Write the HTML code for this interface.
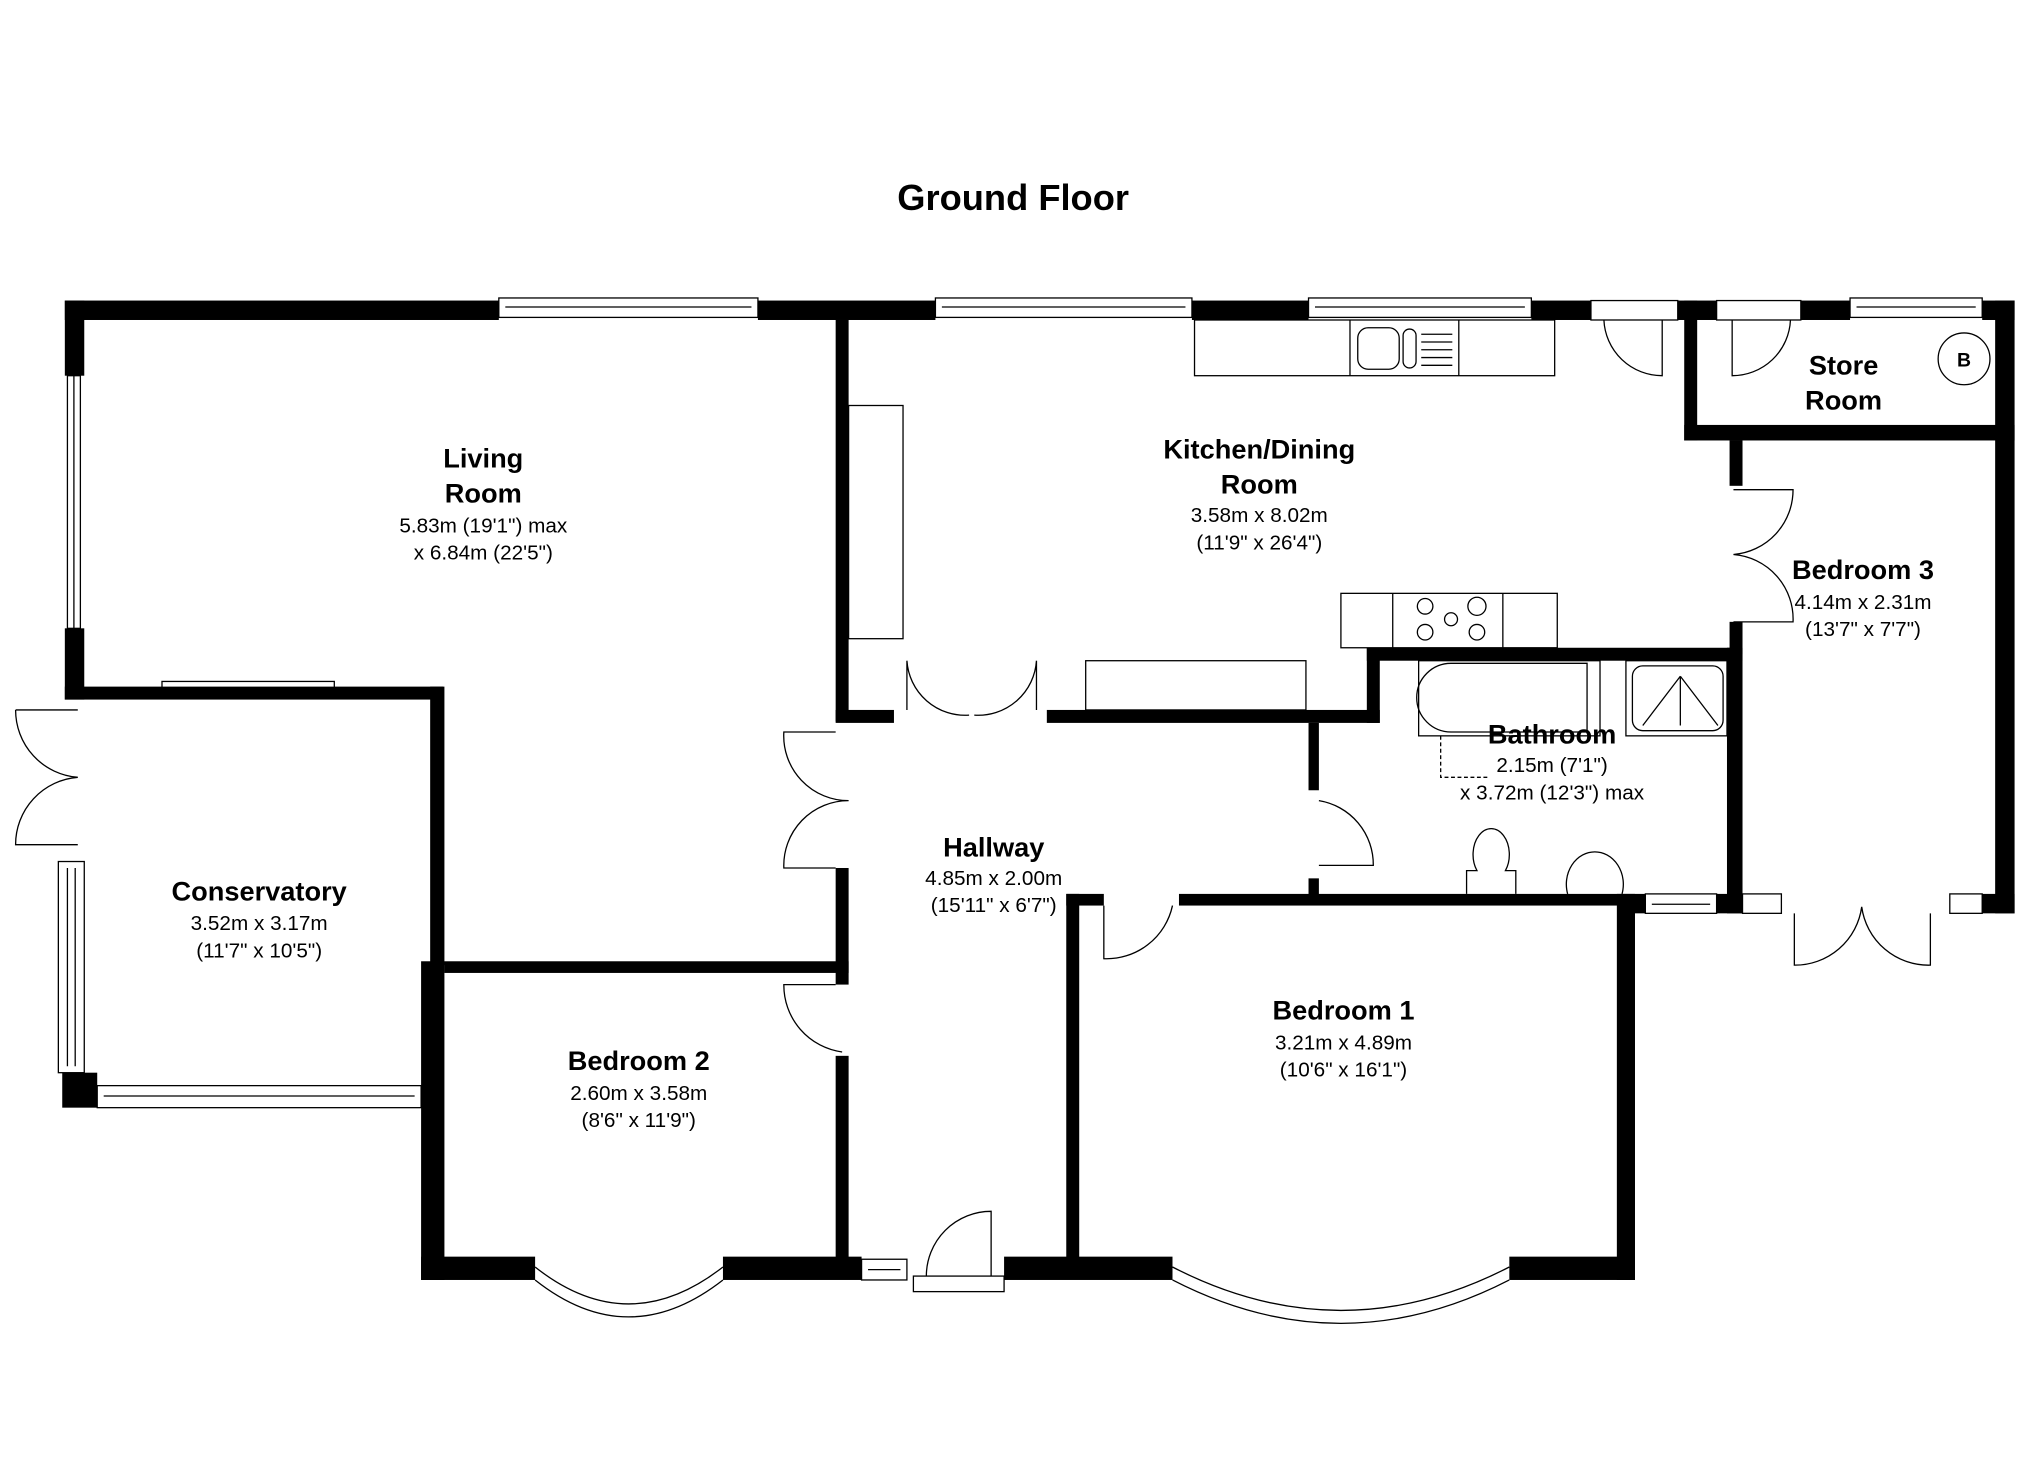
<!DOCTYPE html>
<html><head><meta charset="utf-8"><style>html,body{margin:0;padding:0;background:#fff}svg{display:block}text{font-family:"Liberation Sans",Arial,sans-serif;text-anchor:middle;fill:#000}.t{font-weight:bold;font-size:21px}.s{font-size:16px}</style></head><body>
<svg width="2025" height="1473" viewBox="0 0 1563 1137" xmlns="http://www.w3.org/2000/svg">
<rect width="1563" height="1137" fill="#fff"/>
<text x="782" y="162" style="font-weight:bold;font-size:28px">Ground Floor</text>
<g fill="#000">
<rect x="50" y="232" width="335" height="15"/>
<rect x="585" y="232" width="137" height="15"/>
<rect x="920" y="232" width="90" height="15"/>
<rect x="1182" y="232" width="46" height="15"/>
<rect x="1295" y="232" width="30" height="15"/>
<rect x="1390" y="232" width="38" height="15"/>
<rect x="1530" y="232" width="25" height="15"/>
<rect x="50" y="232" width="15" height="58"/>
<rect x="50" y="485" width="15" height="55"/>
<rect x="50" y="530" width="292" height="10"/>
<rect x="332" y="530" width="11" height="215"/>
<rect x="325" y="742" width="18" height="246"/>
<rect x="343" y="742" width="312" height="9"/>
<rect x="48" y="828" width="27" height="27"/>
<rect x="645" y="247" width="10" height="310"/>
<rect x="645" y="670" width="10" height="90"/>
<rect x="645" y="815" width="10" height="160"/>
<rect x="325" y="970" width="88" height="18"/>
<rect x="558" y="970" width="107" height="18"/>
<rect x="775" y="970" width="130" height="18"/>
<rect x="1165" y="970" width="97" height="18"/>
<rect x="823" y="690" width="10" height="285"/>
<rect x="823" y="690" width="29" height="9"/>
<rect x="910" y="690" width="352" height="9"/>
<rect x="1248" y="690" width="14" height="298"/>
<rect x="645" y="548" width="45" height="10"/>
<rect x="808" y="548" width="257" height="10"/>
<rect x="1055" y="500" width="10" height="58"/>
<rect x="1055" y="500" width="290" height="10"/>
<rect x="1010" y="558" width="8" height="52"/>
<rect x="1010" y="678" width="8" height="20"/>
<rect x="1333" y="500" width="12" height="205"/>
<rect x="1335" y="340" width="10" height="35"/>
<rect x="1335" y="480" width="10" height="25"/>
<rect x="1300" y="232" width="10" height="108"/>
<rect x="1300" y="328" width="255" height="12"/>
<rect x="1540" y="232" width="15" height="473"/>
<rect x="1262" y="690" width="8" height="15"/>
<rect x="1325" y="690" width="20" height="15"/>
<rect x="1530" y="690" width="25" height="15"/>
</g>
<g fill="none" stroke="#000" stroke-width="1">
<rect x="385" y="230" width="200" height="15"/><line x1="390" y1="237" x2="580" y2="237"/>
<rect x="722" y="230" width="198" height="15"/><line x1="727" y1="237" x2="915" y2="237"/>
<rect x="1010" y="230" width="172" height="15"/><line x1="1015" y1="237" x2="1177" y2="237"/>
<rect x="1428" y="230" width="102" height="15"/><line x1="1433" y1="237" x2="1525" y2="237"/>
<rect x="52" y="290" width="10" height="195"/><line x1="57" y1="290" x2="57" y2="485"/>
<rect x="125" y="526" width="133" height="10"/><line x1="125" y1="531" x2="258" y2="531"/>
<rect x="45" y="665" width="20" height="163"/><line x1="52" y1="670" x2="52" y2="823"/><line x1="58" y1="670" x2="58" y2="823"/>
<rect x="75" y="838" width="250" height="17"/><line x1="80" y1="846" x2="320" y2="846"/>
<rect x="665" y="972" width="35" height="16"/><line x1="670" y1="980" x2="695" y2="980"/>
<rect x="1270" y="690" width="55" height="15"/><line x1="1275" y1="698" x2="1320" y2="698"/>
<rect x="1345" y="690" width="30" height="15"/><rect x="1505" y="690" width="25" height="15"/>
<rect x="1228" y="232" width="67" height="15"/><path d="M1238 247 A45 45 0 0 0 1283 290 V247"/>
<rect x="1325" y="232" width="65" height="15"/><path d="M1337 247 V290 A45 45 0 0 0 1382 247"/>
<path d="M1338 378 H1384 A50 50 0 0 1 1338 428 A50 50 0 0 1 1384 480 H1338"/>
<path d="M700 510 V548 M700 510 A45 45 0 0 0 748 552 M800 510 V548 M800 510 A45 45 0 0 1 752 552"/>
<path d="M645 565 H605 A50 50 0 0 0 655 618 A50 50 0 0 0 605 670 H645"/>
<path d="M1018 618 A50 50 0 0 1 1060 668 H1018"/>
<path d="M852 699 V740 A52 52 0 0 0 905 699"/>
<path d="M645 760 H605 A52 52 0 0 0 650 812"/>
<rect x="705" y="985" width="70" height="12"/><path d="M715 985 A50 50 0 0 1 765 935 V985"/>
<path d="M12 548 H60 M12 548 A52 52 0 0 0 60 600 A52 52 0 0 0 12 652 H60"/>
<path d="M1385 705 V745 A52 52 0 0 0 1437 700 A52 52 0 0 0 1490 745 V705"/>
<path d="M413 988 Q485 1045 558 988"/><path d="M413 978 Q485 1035 558 978"/>
<path d="M905 988 Q1035 1055 1165 988"/><path d="M905 978 Q1035 1045 1165 978"/>
<rect x="922" y="247" width="278" height="43"/><line x1="1042" y1="247" x2="1042" y2="290"/><line x1="1126" y1="247" x2="1126" y2="290"/>
<rect x="1048" y="253" width="32" height="32" rx="8"/><rect x="1083" y="254" width="10" height="30" rx="5"/>
<path d="M1097 258 H1121 M1097 264 H1121 M1097 270 H1121 M1097 276 H1121 M1097 282 H1121"/>
<rect x="655" y="313" width="42" height="180"/>
<rect x="1035" y="458" width="167" height="42"/><line x1="1075" y1="458" x2="1075" y2="500"/><line x1="1160" y1="458" x2="1160" y2="500"/>
<circle cx="1100" cy="468" r="6"/><circle cx="1140" cy="468" r="7"/><circle cx="1100" cy="488" r="6"/><circle cx="1140" cy="488" r="6"/><circle cx="1120" cy="478" r="5"/>
<rect x="838" y="510" width="170" height="38"/>
<rect x="1095" y="510" width="140" height="58"/><path d="M1225 512 H1120 A26 26 0 0 0 1120 565 H1225 Z"/>
<rect x="1255" y="510" width="78" height="58"/><rect x="1260" y="514" width="70" height="50" rx="8"/><path d="M1297 522 L1268 560 M1297 522 L1326 560 M1297 522 V560"/>
<path d="M1112 568 V600 H1150" stroke-dasharray="3 2"/>
<path d="M1132 690 V672 H1140 A14 20 0 1 1 1162 672 H1170 V690"/>
<path d="M1210 690 A22 25 0 1 1 1252 690"/>
<circle cx="1516" cy="277" r="20"/>
</g>
<text x="1516" y="283" style="font-weight:bold;font-size:15px">B</text>
<text class="t" x="373" y="361">Living</text><text class="t" x="373" y="388">Room</text>
<text class="s" x="373" y="411">5.83m (19'1") max</text><text class="s" x="373" y="432">x 6.84m (22'5")</text>
<text class="t" x="972" y="354">Kitchen/Dining</text><text class="t" x="972" y="381">Room</text>
<text class="s" x="972" y="403">3.58m x 8.02m</text><text class="s" x="972" y="424">(11'9" x 26'4")</text>
<text class="t" x="1423" y="289">Store</text><text class="t" x="1423" y="316">Room</text>
<text class="t" x="1438" y="447">Bedroom 3</text><text class="s" x="1438" y="470">4.14m x 2.31m</text><text class="s" x="1438" y="491">(13'7" x 7'7")</text>
<text class="t" x="1198" y="574">Bathroom</text><text class="s" x="1198" y="596">2.15m (7'1")</text><text class="s" x="1198" y="617">x 3.72m (12'3") max</text>
<text class="t" x="200" y="695">Conservatory</text><text class="s" x="200" y="718">3.52m x 3.17m</text><text class="s" x="200" y="739">(11'7" x 10'5")</text>
<text class="t" x="767" y="661">Hallway</text><text class="s" x="767" y="683">4.85m x 2.00m</text><text class="s" x="767" y="704">(15'11" x 6'7")</text>
<text class="t" x="1037" y="787">Bedroom 1</text><text class="s" x="1037" y="810">3.21m x 4.89m</text><text class="s" x="1037" y="831">(10'6" x 16'1")</text>
<text class="t" x="493" y="826">Bedroom 2</text><text class="s" x="493" y="849">2.60m x 3.58m</text><text class="s" x="493" y="870">(8'6" x 11'9")</text>
</svg>
</body></html>
